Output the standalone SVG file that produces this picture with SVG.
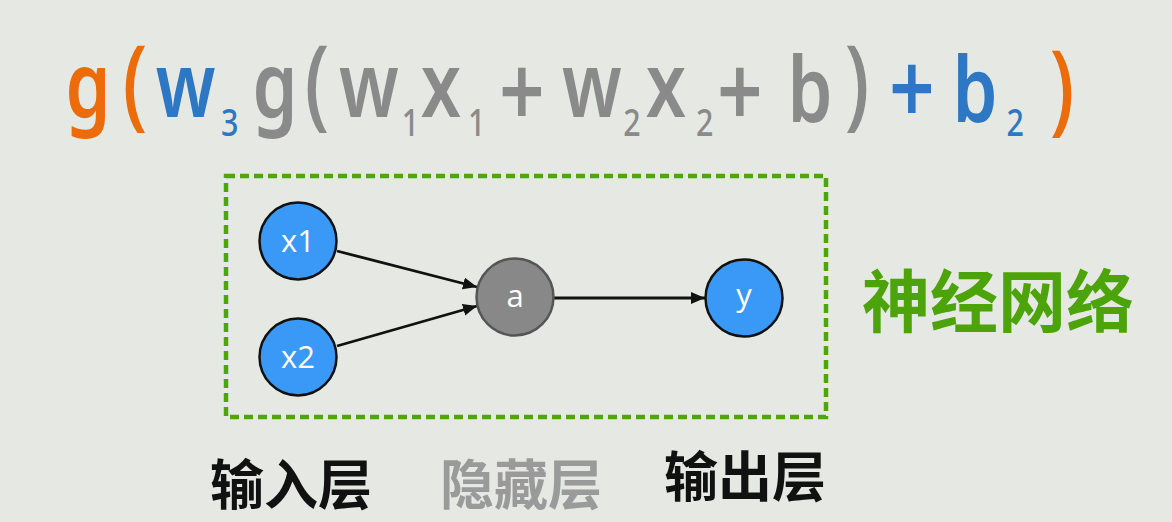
<svg xmlns="http://www.w3.org/2000/svg" width="1172" height="522" viewBox="0 0 1172 522">
<style>
.f{font-family:"Noto Sans","Open Sans",sans-serif;font-weight:600;font-size:90px;text-anchor:middle}
.sub{font-family:"Noto Sans","Open Sans",sans-serif;font-weight:500;font-size:38px;text-anchor:middle}
.par{font-family:"Noto Sans","Open Sans",sans-serif;font-weight:500;font-size:100px;text-anchor:middle}
.pl{font-family:"Noto Sans","Open Sans",sans-serif;font-weight:600;font-size:100px;text-anchor:middle}
.or{fill:#ec6c0c}.bl{fill:#2d77c5}.gr{fill:#8a8a8a}
.node circle{stroke-width:2.5}
.in circle,.out circle{fill:#3a98f7;stroke:#111}
.hid circle{fill:#888888;stroke:#555}
.nt{font-family:"Open Sans","Noto Sans",sans-serif;font-size:31px;fill:#fff;text-anchor:middle}
.lab{font-family:"Noto Sans CJK SC","Noto Sans",sans-serif;font-weight:700;font-size:54px;text-anchor:middle}
.conn line{stroke:#111;stroke-width:2.8;fill:none}
</style>
<defs>
<marker id="arr" markerUnits="userSpaceOnUse" markerWidth="16" markerHeight="14" refX="14" refY="6" orient="auto">
<path d="M0,0 L14,6 L0,12 Z" fill="#111"/>
</marker>
</defs>
<rect x="0" y="0" width="1172" height="522" fill="#e6e9e3"/>

<g id="formula" transform="scale(0.8,1)">
<text class="f or" x="110" y="117">g</text>
<text class="par or" x="168.75" y="117">(</text>
<text class="f bl" x="232" y="117">w</text>
<text class="sub bl" x="287" y="136">3</text>
<text class="f gr" x="343.75" y="117">g</text>
<text class="par gr" x="396.25" y="117">(</text>
<text class="f gr" x="461" y="117">w</text>
<text class="sub gr" x="513" y="136">1</text>
<text class="f gr" x="551.25" y="117">x</text>
<text class="sub gr" x="596" y="136">1</text>
<text class="pl gr" x="652.5" y="127">+</text>
<text class="f gr" x="740" y="117">w</text>
<text class="sub gr" x="790" y="136">2</text>
<text class="f gr" x="832.5" y="117">x</text>
<text class="sub gr" x="881" y="136">2</text>
<text class="pl gr" x="925" y="127">+</text>
<text class="f gr" x="1012.5" y="121">b</text>
<text class="par gr" x="1071.25" y="117">)</text>
<text class="pl bl" x="1140" y="124">+</text>
<text class="f bl" x="1218.75" y="121">b</text>
<text class="sub bl" x="1269" y="136">2</text>
<text class="par or" x="1327.5" y="122">)</text>
</g>

<g id="network-box">
<rect x="226" y="176" width="600" height="241" fill="none" stroke="#4ea60c" stroke-width="4.5" stroke-dasharray="9 5"/>
</g>

<g id="connectors" class="conn">
<line x1="337" y1="251" x2="477" y2="287" marker-end="url(#arr)"/>
<line x1="337" y1="346" x2="477" y2="306" marker-end="url(#arr)"/>
<line x1="554" y1="298" x2="705" y2="298" marker-end="url(#arr)"/>
</g>

<g id="node-x1" class="node in">
<circle cx="298" cy="241" r="38.5"/>
<text class="nt" x="298" y="252">x1</text>
</g>
<g id="node-x2" class="node in">
<circle cx="298" cy="357" r="38.5"/>
<text class="nt" x="298" y="368">x2</text>
</g>
<g id="node-a" class="node hid">
<circle cx="515" cy="297" r="38.5"/>
<text class="nt" x="515" y="307">a</text>
</g>
<g id="node-y" class="node out">
<circle cx="744" cy="298" r="38.5"/>
<text class="nt" x="744" y="306">y</text>
</g>

<g id="label-nn">
<text class="lab" x="998" y="327" fill="#4ca40a" style="font-size:68px">神经网络</text>
</g>
<g id="label-input"><text class="lab" x="291" y="505" fill="#111">输入层</text></g>
<g id="label-hidden"><text class="lab" x="521" y="505" fill="#9a9a9a">隐藏层</text></g>
<g id="label-output"><text class="lab" x="745" y="497" fill="#111">输出层</text></g>
</svg>
